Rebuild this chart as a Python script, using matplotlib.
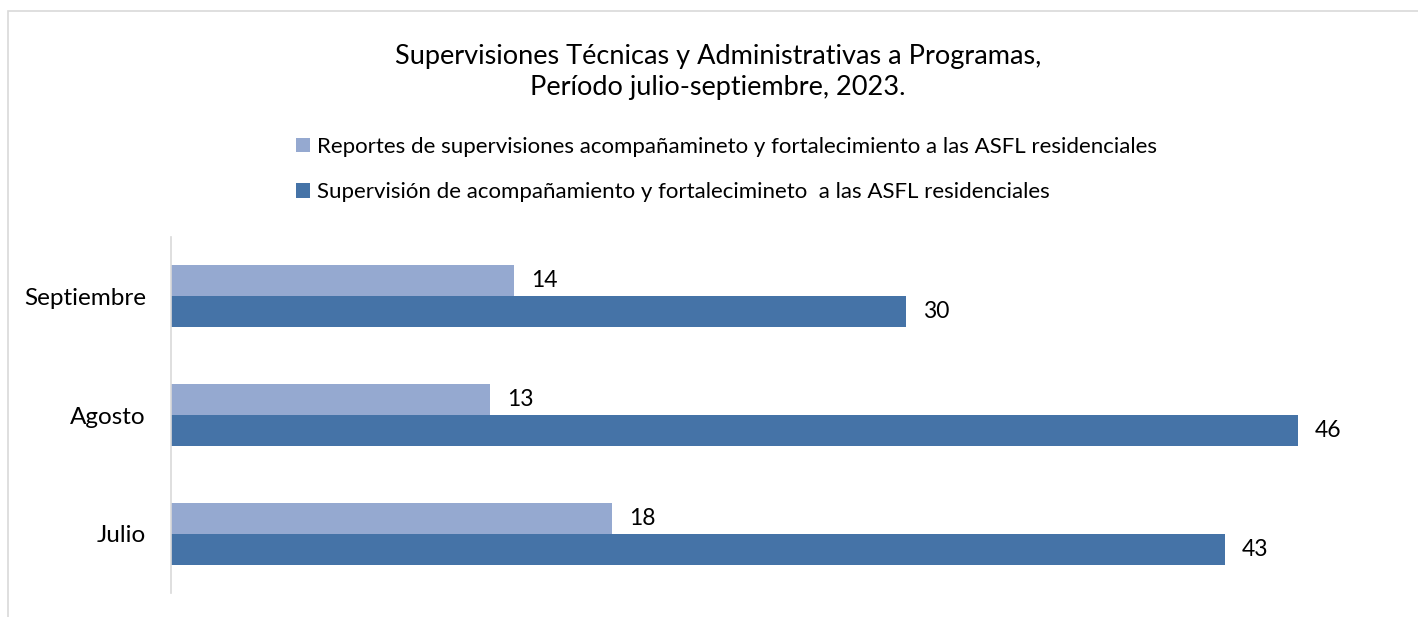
import matplotlib.pyplot as plt
from matplotlib.patches import Rectangle
import numpy as np

plt.rcParams["font.family"] = ["Lato", "DejaVu Sans"]

months = ["Julio", "Agosto", "Septiembre"]
reportes = [18, 13, 14]
supervision = [43, 46, 30]
label_reportes = "Reportes de supervisiones acompañamineto y fortalecimiento a las ASFL residenciales"
label_supervision = "Supervisión de acompañamiento y fortalecimineto  a las ASFL residenciales"
title = "Supervisiones Técnicas y Administrativas a Programas,\nPeríodo julio-septiembre, 2023."

light = "#95a9d0"
dark = "#4573a7"

W, H = 1418, 617
fig = plt.figure(figsize=(W / 100, H / 100), dpi=100)
fig.patches.append(Rectangle((8 / W, -0.1), 1.2, 1 - 11 / H + 0.1, transform=fig.transFigure,
                             fill=False, edgecolor="#d9d9d9", linewidth=1.2))

ax = fig.add_axes([171 / W, 1 - 593 / H, 1225 / W, 356 / H])
y = np.arange(len(months))
h = 0.26
ax.barh(y + h / 2, reportes, height=h, color=light, label=label_reportes)
ax.barh(y - h / 2, supervision, height=h, color=dark, label=label_supervision)

for yi, v in zip(y, reportes):
    ax.text(v + 0.7, yi + h / 2, str(v), va="center", ha="left", fontsize=16.5)
for yi, v in zip(y, supervision):
    ax.text(v + 0.7, yi - h / 2, str(v), va="center", ha="left", fontsize=16.5)

ax.set_xlim(0, 50)
ax.set_ylim(-0.5, 2.5)
ax.set_yticks(y)
ax.set_yticklabels(months, fontsize=17.5)
ax.tick_params(axis="y", length=0, pad=18)
ax.set_xticks([])
for s in ["top", "right", "bottom"]:
    ax.spines[s].set_visible(False)
ax.spines["left"].set_color("#d9d9d9")
ax.spines["left"].set_linewidth(1.2)

fig.text(718 / W, 1 - 72 / H, title, ha="center", va="center", fontsize=19.5, linespacing=1.3)

fig.legend(loc="upper left", bbox_to_anchor=(287 / W, 1 - 128 / H), frameon=False,
           fontsize=16, handlelength=0.65, handleheight=0.65, handletextpad=0.3,
           labelspacing=1.15, borderaxespad=0)

fig.savefig("out.png", dpi=100)
